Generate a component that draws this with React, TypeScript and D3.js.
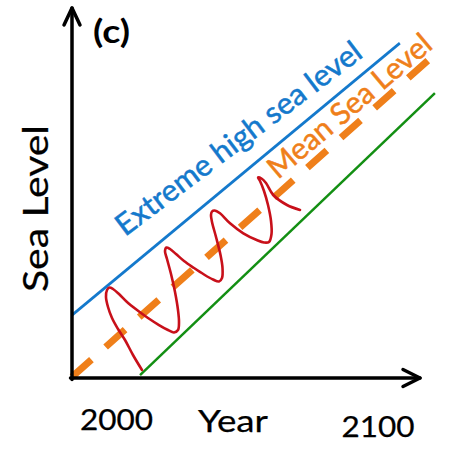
import React from "react";
import * as d3 from "d3";

const W = 462;
const H = 450;

// data space: years on x, relative sea level (arbitrary units) on y
const xDomain = [1983, 2116];
const yDomain = [0, 100];
const tickYears = [2000, 2100];
const tickLabels = ["2000", "2100"];

const extremeYears = [1983, 2108.3];
const extremeLevels = [17.0, 90.5];

const meanYears = [1983, 2120.6];
const meanLevels = [0.3, 86.8];

const lowYears = [2009.0, 2121.7];
const lowLevels = [0.8, 77.0];

const tideYears = [
  2009.75, 2006.31, 2003.26, 2000.58, 1998.29, 1996.76, 1995.99, 1996.38, 1997.33, 1998.67,
  2000.96, 2004.02, 2007.84, 2012.05, 2016.25, 2019.69, 2021.98, 2023.51, 2023.89, 2023.51,
  2022.37, 2020.84, 2019.31, 2018.54, 2019.12, 2020.45, 2022.75, 2025.81, 2029.63, 2033.45,
  2036.89, 2039.18, 2040.33, 2040.52, 2039.76, 2038.04, 2036.51, 2036.12, 2036.51, 2037.46,
  2039.56, 2043.39, 2048.47, 2053.59, 2056.38, 2058.29, 2059.25, 2059.06, 2057.91, 2056.38,
  2054.85, 2054.09, 2055.42, 2057.14, 2059.93, 2065.17, 2070.14,
];
const tideLevels = [
  2.16, 6.22, 10.27, 13.24, 16.22, 19.19, 21.89, 23.78, 24.46, 24.05,
  22.7, 20.54, 18.38, 16.22, 14.32, 12.97, 12.3, 12.97, 15.14, 18.38,
  23.24, 28.11, 32.16, 34.32, 35.27, 34.86, 33.51, 31.62, 29.73, 27.97,
  26.62, 26.08, 27.03, 29.73, 33.24, 38.11, 42.16, 44.05, 45.0, 45.27,
  44.51, 41.81, 39.11, 37.3, 36.62, 36.76, 38.92, 42.43, 46.76, 50.54,
  53.24, 54.19, 53.92, 52.7, 49.46, 46.76, 45.41,
];

const extremeLabel = "Extreme high sea level";
const extremeLabelAt = [2003.3, 38.1];
const meanLabel = "Mean Sea Level";
const meanLabelAt = [2061.7, 53.5];

const BLUE = "#1479CC";
const ORANGE = "#EF7F1A";
const GREEN = "#138F13";
const RED = "#C8101A";
const FONT = "Lato, 'Open Sans', sans-serif";

export default function App() {
  const x = d3.scaleLinear().domain(xDomain).range([72, 420]);
  const y = d3.scaleLinear().domain(yDomain).range([378, 8]);

  const line = d3
    .line<[number, number]>()
    .x((d) => x(d[0]))
    .y((d) => y(d[1]));
  const smooth = d3
    .line<[number, number]>()
    .x((d) => x(d[0]))
    .y((d) => y(d[1]))
    .curve(d3.curveCatmullRom.alpha(0.5));

  const zip = (a: number[], b: number[]) => a.map((v, i) => [v, b[i]] as [number, number]);

  const x0 = x(xDomain[0]);
  const x1 = x(xDomain[1]);
  const y0 = y(yDomain[0]);
  const y1 = y(yDomain[1]);

  const tickDy = [52, 59];

  const eX = x(extremeLabelAt[0]);
  const eY = y(extremeLabelAt[1]);
  const mX = x(meanLabelAt[0]);
  const mY = y(meanLabelAt[1]);

  const heavy = (c: string, w = 0.35) => ({ stroke: c, strokeWidth: w, fill: c });

  return (
    <svg
      width={W}
      height={H}
      viewBox={`0 0 ${W} ${H}`}
      style={{ position: "absolute", left: 0, top: 0, background: "#fff" }}
    >
      <rect x={0} y={0} width={W} height={H} fill="#fff" />

      {/* series */}
      <path d={line(zip(extremeYears, extremeLevels)) || ""} fill="none" stroke={BLUE} strokeWidth={2.7} />
      <path d={line(zip(lowYears, lowLevels)) || ""} fill="none" stroke={GREEN} strokeWidth={2.5} />
      <path
        d={line(zip(meanYears, meanLevels)) || ""}
        fill="none"
        stroke={ORANGE}
        strokeWidth={7}
        strokeDasharray="26 19"
      />
      <path
        d={smooth(zip(tideYears, tideLevels)) || ""}
        fill="none"
        stroke={RED}
        strokeWidth={2.6}
        strokeLinecap="round"
        strokeLinejoin="round"
      />

      {/* line labels */}
      <text
        x={0}
        y={0}
        transform={`translate(${eX},${eY}) rotate(-37.1)`}
        {...heavy(BLUE, 0.5)}
        fontFamily={FONT}
        fontSize={30}
        textLength={300}
        lengthAdjust="spacingAndGlyphs"
      >
        {extremeLabel}
      </text>
      <text
        x={0}
        y={0}
        transform={`translate(${mX},${mY}) rotate(-40.3)`}
        {...heavy(ORANGE, 0.5)}
        fontFamily={FONT}
        fontSize={30}
        textLength={205}
        lengthAdjust="spacingAndGlyphs"
      >
        {meanLabel}
      </text>

      {/* axes */}
      <g stroke="#000" strokeWidth={3.5} fill="none" strokeLinecap="round" strokeLinejoin="round">
        <line x1={x0} y1={y0 + 1.5} x2={x0} y2={y1} />
        <line x1={x0 - 1.5} y1={y0} x2={x1} y2={y0} />
        <polyline points={`${x0 - 8},${y1 + 17} ${x0},${y1} ${x0 + 8},${y1 + 17}`} />
        <polyline points={`${x1 - 17},${y0 - 8.5} ${x1},${y0} ${x1 - 17},${y0 + 8.5}`} />
      </g>

      {tickYears.map((t, i) => (
        <text
          key={t}
          x={x(t)}
          y={y0 + tickDy[i]}
          textAnchor="middle"
          fontFamily={FONT}
          fontSize={28}
          textLength={73}
          lengthAdjust="spacingAndGlyphs"
          {...heavy("#000", 0.25)}
        >
          {tickLabels[i]}
        </text>
      ))}

      <text
        x={233}
        y={432}
        textAnchor="middle"
        fontFamily={FONT}
        fontSize={31}
        textLength={70}
        lengthAdjust="spacingAndGlyphs"
        {...heavy("#000", 0.25)}
      >
        Year
      </text>

      <text
        transform="translate(48,292) rotate(-90)"
        fontFamily={FONT}
        fontSize={35}
        textLength={167}
        lengthAdjust="spacingAndGlyphs"
        {...heavy("#000", 0.25)}
      >
        Sea Level
      </text>

      <text
        x={93}
        y={43}
        fontFamily={FONT}
        fontSize={32}
        fontWeight="bold"
        textLength={37}
        lengthAdjust="spacingAndGlyphs"
        fill="#000"
      >
        (c)
      </text>
    </svg>
  );
}
